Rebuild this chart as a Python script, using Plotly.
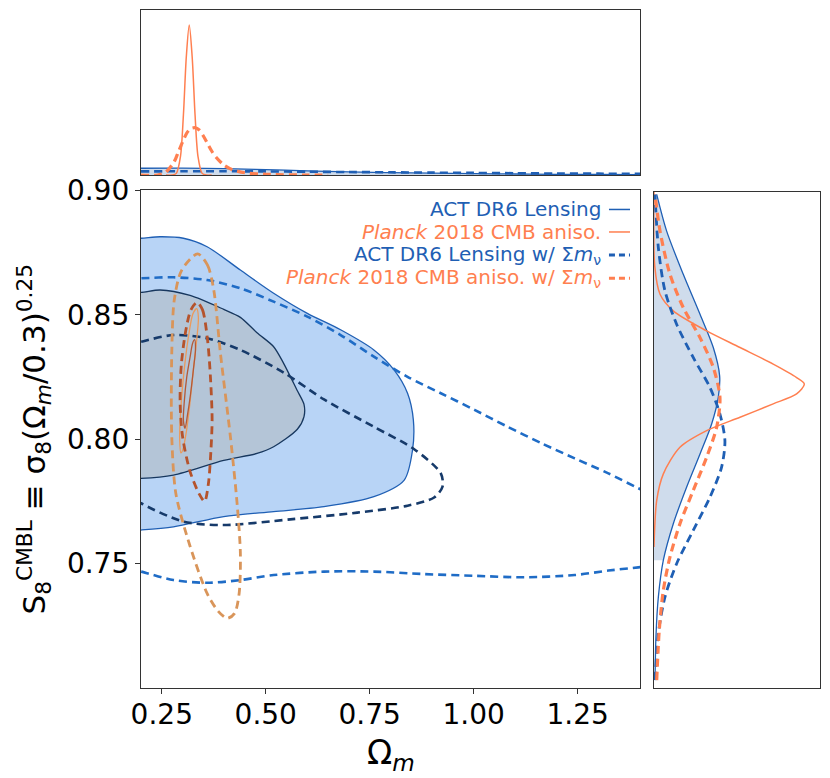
import plotly.graph_objects as go

# ---- main panel: 2D contours, (Omega_m, S8^CMBL) ----
act_2s_om = [0.15, 0.2, 0.246, 0.302, 0.359, 0.439, 0.519, 0.600, 0.680, 0.760, 0.809, 0.841, 0.855, 0.853, 0.833, 0.760, 0.640, 0.519, 0.399, 0.278, 0.2, 0.15, 0.15]
act_2s_s8 = [0.8805, 0.8808, 0.8814, 0.8808, 0.8774, 0.8680, 0.8587, 0.8506, 0.8440, 0.8359, 0.8278, 0.8185, 0.8077, 0.7957, 0.7836, 0.7769, 0.7729, 0.7709, 0.7689, 0.7648, 0.7635, 0.7630, 0.8805]

act_1s_om = [0.15, 0.2, 0.246, 0.318, 0.399, 0.439, 0.479, 0.519, 0.543, 0.575, 0.592, 0.592, 0.576, 0.519, 0.479, 0.399, 0.278, 0.2, 0.15, 0.15]
act_1s_s8 = [0.8590, 0.8590, 0.8600, 0.8578, 0.8522, 0.8490, 0.8428, 0.8372, 0.8305, 0.8198, 0.8140, 0.8091, 0.8040, 0.7970, 0.7943, 0.7915, 0.7856, 0.7843, 0.7843, 0.8590]

actnu_1s_om = [0.17, 0.2, 0.278, 0.359, 0.439, 0.543, 0.640, 0.760, 0.857, 0.921, 0.925, 0.905, 0.841, 0.720, 0.559, 0.399, 0.302, 0.2, 0.17]
actnu_1s_s8 = [0.8380, 0.8392, 0.8419, 0.8406, 0.8359, 0.8268, 0.8160, 0.8050, 0.7960, 0.7863, 0.7809, 0.7766, 0.7733, 0.7705, 0.7678, 0.7655, 0.7669, 0.7743, 0.7780]

actnu_2s_om = [0.17, 0.2, 0.278, 0.359, 0.439, 0.519, 0.600, 0.680, 0.760, 0.841, 0.921, 1.002, 1.082, 1.163, 1.243, 1.324, 1.396, 1.43,
               None,
               0.17, 0.2, 0.278, 0.359, 0.439, 0.519, 0.640, 0.760, 0.881, 1.002, 1.122, 1.243, 1.324, 1.396, 1.43]
actnu_2s_s8 = [0.8645, 0.8647, 0.8651, 0.8640, 0.8607, 0.8553, 0.8493, 0.8419, 0.8332, 0.8251, 0.8185, 0.8118, 0.8050, 0.7984, 0.7923, 0.7863, 0.7803, 0.7780,
               None,
               0.7480, 0.7468, 0.7434, 0.7423, 0.7434, 0.7454, 0.7468, 0.7468, 0.7458, 0.7451, 0.7445, 0.7454, 0.7472, 0.7485, 0.7492]

planck_1s_om = [0.329, 0.331, 0.326, 0.319, 0.312, 0.306, 0.302, 0.304, 0.310, 0.318, 0.324, 0.329]
planck_1s_s8 = [0.8400, 0.8360, 0.8280, 0.8180, 0.8100, 0.8044, 0.8075, 0.8150, 0.8250, 0.8330, 0.8385, 0.8400]

planck_2s_om = [0.334, 0.338, 0.334, 0.326, 0.318, 0.309, 0.300, 0.296, 0.293, 0.296, 0.303, 0.313, 0.325, 0.334]
planck_2s_s8 = [0.8525, 0.8490, 0.8400, 0.8280, 0.8150, 0.8030, 0.7955, 0.7945, 0.8000, 0.8130, 0.8265, 0.8400, 0.8505, 0.8525]

plancknu_1s_om = [0.335, 0.348, 0.360, 0.367, 0.371, 0.368, 0.362, 0.353, 0.340, 0.318, 0.300, 0.294, 0.297, 0.307, 0.320, 0.335]
plancknu_1s_s8 = [0.8550, 0.8520, 0.8400, 0.8250, 0.8080, 0.7950, 0.7820, 0.7750, 0.7780, 0.7870, 0.8010, 0.8150, 0.8300, 0.8430, 0.8520, 0.8550]

plancknu_2s_om = [0.336, 0.360, 0.375, 0.391, 0.415, 0.431, 0.439, 0.436, 0.425, 0.407, 0.385, 0.359, 0.318, 0.284, 0.274, 0.274, 0.280, 0.298, 0.336]
plancknu_2s_s8 = [0.8745, 0.8700, 0.8600, 0.8346, 0.8010, 0.7743, 0.7541, 0.7380, 0.7300, 0.7280, 0.7310, 0.7380, 0.7570, 0.7780, 0.8010, 0.8346, 0.8560, 0.8680, 0.8745]

# ---- top panel: 1D Omega_m ----
top_om = [0.2, 0.3, 0.4, 0.5, 0.6, 0.7, 0.8, 0.9, 1.0, 1.1, 1.2, 1.3, 1.4]
top_act = [0.045, 0.046, 0.043, 0.036, 0.028, 0.021, 0.016, 0.012, 0.009, 0.007, 0.005, 0.004, 0.003]
top_actnu = [0.024, 0.025, 0.025, 0.024, 0.022, 0.020, 0.018, 0.016, 0.014, 0.012, 0.010, 0.009, 0.008]

top_planck_om = [0.26, 0.275, 0.285, 0.295, 0.302, 0.309, 0.316, 0.323, 0.330, 0.337, 0.347, 0.357, 0.37]
top_planck = [0.0, 0.0, 0.011, 0.125, 0.40, 0.79, 1.0, 0.79, 0.40, 0.125, 0.011, 0.0, 0.0]

top_plancknu_om = [0.20, 0.24, 0.26, 0.28, 0.29, 0.30, 0.31, 0.32, 0.33, 0.34, 0.35, 0.36, 0.37, 0.38, 0.40, 0.42, 0.45, 0.50, 0.60, 0.65]
top_plancknu = [0.0, 0.0, 0.02, 0.09, 0.155, 0.22, 0.28, 0.31, 0.315, 0.30, 0.26, 0.21, 0.16, 0.12, 0.065, 0.035, 0.015, 0.005, 0.0, 0.0]

# ---- right panel: 1D S8 ----
right_act_s8 = [0.7032, 0.7206, 0.7367, 0.7515, 0.7662, 0.7809, 0.7943, 0.8064, 0.8171, 0.8258, 0.8372, 0.8506, 0.8667, 0.8841, 0.8989]
right_act = [0.007, 0.013, 0.029, 0.062, 0.128, 0.216, 0.305, 0.382, 0.426, 0.435, 0.393, 0.305, 0.194, 0.084, 0.018]

right_planck_s8 = [0.7568, 0.7756, 0.7863, 0.797, 0.8037, 0.8091, 0.8145, 0.8185, 0.8225, 0.8251, 0.8305, 0.8372, 0.8439, 0.852, 0.8587, 0.87, 0.90]
right_planck = [0.0, 0.018, 0.062, 0.172, 0.349, 0.57, 0.79, 0.945, 0.996, 0.945, 0.79, 0.57, 0.349, 0.128, 0.04, 0.005, 0.0]

right_actnu_s8 = [0.7032, 0.722, 0.7367, 0.7501, 0.7635, 0.7769, 0.789, 0.7997, 0.8104, 0.8211, 0.8332, 0.8466, 0.860, 0.8774, 0.8989]
right_actnu = [0.007, 0.029, 0.073, 0.15, 0.26, 0.371, 0.448, 0.47, 0.437, 0.371, 0.26, 0.15, 0.073, 0.029, 0.007]

right_plancknu_s8 = [0.7032, 0.7233, 0.7394, 0.7528, 0.7662, 0.7796, 0.793, 0.805, 0.8171, 0.8292, 0.8412, 0.8533, 0.8667, 0.8841, 0.8989]
right_plancknu = [0.018, 0.035, 0.062, 0.106, 0.172, 0.26, 0.349, 0.415, 0.437, 0.393, 0.305, 0.194, 0.106, 0.04, 0.007]

legend_labels = ["ACT DR6 Lensing",
                 "<i>Planck</i> 2018 CMB aniso.",
                 "ACT DR6 Lensing w/ Σ<i>m</i><sub>ν</sub>",
                 "<i>Planck</i> 2018 CMB aniso. w/ Σ<i>m</i><sub>ν</sub>"]

ACT = "#1f5fb4"
PLANCK = "#ff7f50"
FONT = "DejaVu Sans"
DASH = "8px,5px"

fig = go.Figure()

def contour(x, y, color, width=1.3, dash="solid", fill=None, xa="x", ya="y"):
    fig.add_trace(go.Scatter(x=x, y=y, mode="lines", xaxis=xa, yaxis=ya,
                             line=dict(color=color, width=width, dash=dash, shape="spline", smoothing=0.8),
                             fill="toself" if fill else None, fillcolor=fill,
                             hoverinfo="skip", showlegend=False))

# main
contour(act_2s_om, act_2s_s8, ACT, 1.3, fill="#b8d4f6")
contour(act_1s_om, act_1s_s8, "#17375e", 1.3, fill="#b4c5d7")
contour(actnu_2s_om, actnu_2s_s8, "#1f6cc6", 2.6, DASH)
contour(actnu_1s_om, actnu_1s_s8, "#163a6a", 2.6, DASH)
contour(planck_2s_om, planck_2s_s8, "#eb9a5c", 1.3)
contour(planck_1s_om, planck_1s_s8, "#b35a38", 1.3)
contour(plancknu_2s_om, plancknu_2s_s8, "#d9955a", 2.8, DASH)
contour(plancknu_1s_om, plancknu_1s_s8, "#b5532c", 2.8, DASH)

# top
fig.add_trace(go.Scatter(x=top_om, y=top_act, mode="lines", xaxis="x2", yaxis="y2", fill="tozeroy",
                         fillcolor="#cfdcec", line=dict(color=ACT, width=1.3, shape="spline"),
                         hoverinfo="skip", showlegend=False))
contour(top_om, top_actnu, ACT, 2.6, DASH, xa="x2", ya="y2")
contour(top_planck_om, top_planck, PLANCK, 1.5, xa="x2", ya="y2")
contour(top_plancknu_om, top_plancknu, PLANCK, 3.2, DASH, xa="x2", ya="y2")

# right
fig.add_trace(go.Scatter(x=right_act[3:], y=right_act_s8[3:], mode="lines", xaxis="x3", yaxis="y3",
                         fill="tozerox", fillcolor="#cfdcec", line=dict(width=0, shape="spline"),
                         hoverinfo="skip", showlegend=False))
contour(right_act, right_act_s8, ACT, 1.3, xa="x3", ya="y3")
contour(right_planck, right_planck_s8, PLANCK, 1.5, xa="x3", ya="y3")
contour(right_actnu, right_actnu_s8, ACT, 2.8, DASH, xa="x3", ya="y3")
contour(right_plancknu, right_plancknu_s8, PLANCK, 3.2, DASH, xa="x3", ya="y3")

# legend drawn as right-aligned text with line samples after it
leg_colors = [ACT, PLANCK, ACT, PLANCK]
leg_dash = ["solid", "solid", "dash", "dash"]
leg_y = [0.7058, 0.6726, 0.6386, 0.6043]
for lab, col, dsh, yy in zip(legend_labels, leg_colors, leg_dash, leg_y):
    fig.add_annotation(x=0.6804, y=yy, xref="paper", yref="paper", text=lab, showarrow=False,
                       xanchor="right", yanchor="middle", font=dict(size=20, color=col, family=FONT))
    fig.add_shape(type="line", xref="paper", yref="paper", x0=0.6892, x1=0.7202, y0=yy, y1=yy,
                  line=dict(color=col, width=1.5 if dsh == "solid" else 3,
                            dash="solid" if dsh == "solid" else "6px,4px"))

# x-axis title placed by hand, the axis title sits too low at this size
fig.add_annotation(x=0.3675, y=-0.098, xref="paper", yref="paper", text="Ω<sub><i>m</i></sub>",
                   showarrow=False, xanchor="center", yanchor="middle", font=dict(size=33, family=FONT))

frame = dict(showline=True, linecolor="#333333", linewidth=1.3, mirror=True, showgrid=False,
             zeroline=False, automargin=False)

# the page adds an 8px body margin, so the plot area is placed 8px up/left
fig.update_layout(
    width=830, height=778, margin=dict(l=133, r=18, t=2, b=98),
    plot_bgcolor="white", paper_bgcolor="white",
    font=dict(family=FONT, color="black"),
    xaxis=dict(domain=[0, 0.7349], range=[0.2, 1.4], tickvals=[0.25, 0.5, 0.75, 1.0, 1.25],
               tickformat=".2f", ticks="outside", ticklen=5, tickcolor="#333333",
               tickfont=dict(size=28), ticklabelstandoff=-4, anchor="y", **frame),
    yaxis=dict(domain=[0, 0.7338], range=[0.70, 0.90], tickvals=[0.75, 0.80, 0.85, 0.90],
               tickformat=".2f", ticks="outside", ticklen=5, tickcolor="#333333",
               tickfont=dict(size=28),
               title=dict(text="S<sub>8</sub><sup>CMBL</sup> ≡ σ<sub>8</sub>(Ω<sub><i>m</i></sub>/0.3)<sup>0.25</sup>",
                          font=dict(size=31), standoff=12),
               anchor="x", **frame),
    xaxis2=dict(domain=[0, 0.7349], range=[0.2, 1.4], showticklabels=False, ticks="",
                anchor="y2", **frame),
    yaxis2=dict(domain=[0.7566, 1.0], range=[0, 1.1], showticklabels=False, ticks="",
                anchor="x2", **frame),
    xaxis3=dict(domain=[0.7555, 1.0], range=[0, 1.1], showticklabels=False, ticks="",
                anchor="y3", **frame),
    yaxis3=dict(domain=[0, 0.732], range=[0.70, 0.90], showticklabels=False, ticks="",
                anchor="x3", **frame),
)

fig.write_html("out.html")
